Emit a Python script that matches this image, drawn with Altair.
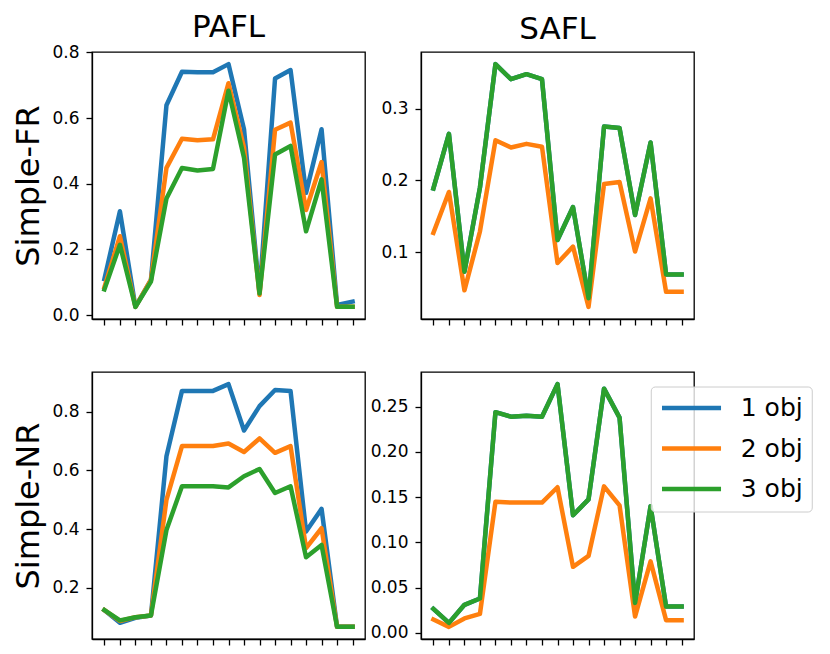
import altair as alt
import pandas as pd

x_idx = list(range(17))
series = ["1 obj", "2 obj", "3 obj"]
colors = ["#1f77b4", "#ff7f0e", "#2ca02c"]
col_titles = ["PAFL", "SAFL"]
row_titles = ["Simple-FR", "Simple-NR"]

# PAFL / Simple-FR
pafl_fr_1 = [0.110, 0.316, 0.025, 0.107, 0.639, 0.741, 0.739, 0.739, 0.764, 0.566, 0.066, 0.720, 0.746, 0.372, 0.566, 0.031, 0.041]
pafl_fr_2 = [0.085, 0.240, 0.025, 0.107, 0.448, 0.537, 0.532, 0.535, 0.706, 0.510, 0.061, 0.564, 0.586, 0.320, 0.466, 0.025, 0.025]
pafl_fr_3 = [0.078, 0.214, 0.025, 0.102, 0.355, 0.448, 0.440, 0.445, 0.683, 0.479, 0.066, 0.489, 0.515, 0.255, 0.413, 0.025, 0.025]
# SAFL / Simple-FR
safl_fr_1 = [0.189, 0.265, 0.073, 0.190, 0.362, 0.341, 0.348, 0.341, 0.117, 0.163, 0.036, 0.275, 0.273, 0.152, 0.253, 0.069, 0.069]
safl_fr_2 = [0.127, 0.184, 0.047, 0.129, 0.256, 0.246, 0.251, 0.247, 0.085, 0.108, 0.024, 0.195, 0.198, 0.101, 0.175, 0.045, 0.045]
safl_fr_3 = [0.189, 0.265, 0.073, 0.190, 0.362, 0.341, 0.348, 0.341, 0.117, 0.163, 0.036, 0.275, 0.273, 0.152, 0.253, 0.069, 0.069]
# PAFL / Simple-NR
pafl_nr_1 = [0.124, 0.081, 0.098, 0.106, 0.648, 0.871, 0.871, 0.871, 0.894, 0.736, 0.819, 0.874, 0.871, 0.392, 0.469, 0.067, 0.067]
pafl_nr_2 = [0.124, 0.087, 0.100, 0.106, 0.500, 0.683, 0.683, 0.683, 0.692, 0.663, 0.709, 0.660, 0.683, 0.335, 0.403, 0.067, 0.067]
pafl_nr_3 = [0.124, 0.089, 0.100, 0.106, 0.397, 0.546, 0.546, 0.546, 0.542, 0.580, 0.605, 0.523, 0.546, 0.304, 0.346, 0.067, 0.067]
# SAFL / Simple-NR
safl_nr_1 = [0.0265, 0.011, 0.031, 0.038, 0.244, 0.239, 0.240, 0.239, 0.275, 0.130, 0.1475, 0.270, 0.238, 0.033, 0.140, 0.029, 0.029]
safl_nr_2 = [0.0147, 0.0066, 0.0159, 0.021, 0.145, 0.144, 0.144, 0.144, 0.161, 0.073, 0.085, 0.162, 0.141, 0.018, 0.079, 0.014, 0.014]
safl_nr_3 = [0.0265, 0.011, 0.031, 0.038, 0.244, 0.239, 0.240, 0.239, 0.275, 0.130, 0.1475, 0.270, 0.238, 0.033, 0.140, 0.029, 0.029]

tick_tl = [0.0, 0.2, 0.4, 0.6, 0.8]
tick_tr = [0.1, 0.2, 0.3]
tick_bl = [0.2, 0.4, 0.6, 0.8]
tick_br = [0.00, 0.05, 0.10, 0.15, 0.20, 0.25]

FONT = "DejaVu Sans"
W, H = 273, 267


def panel(vals, ticks, fmt, title=None, ytitle=None, legend=False, title_offset=10):
    rows = []
    for s, v in zip(series, vals):
        for i, y in zip(x_idx, v):
            rows.append({"x": i, "y": y, "series": s})
    df = pd.DataFrame(rows)
    lo = min(min(v) for v in vals)
    hi = max(max(v) for v in vals)
    pad = 0.05 * (hi - lo)

    if legend:
        leg = alt.Legend(
            orient="none", legendX=229.75, legendY=14.5, title=None,
            symbolType="M-1,0L4.76,0", symbolSize=420, symbolStrokeWidth=4.5,
            symbolFillColor="transparent",
            labelFontSize=25, labelFont=FONT, labelColor="black", labelOffset=56,
            padding=9, rowPadding=14.5, strokeColor="#cccccc",
            fillColor="rgba(255,255,255,0.8)", cornerRadius=4,
        )
    else:
        leg = None

    yaxis_kwargs = dict(values=ticks, format=fmt, grid=False, tickSize=6,
                        labelPadding=7, labelFontSize=17, labelFont=FONT)
    if ytitle:
        yaxis_kwargs.update(title=ytitle, titleFontSize=32, titleFont=FONT,
                            titleFontWeight="normal", titleBaseline="alphabetic",
                            titleX=-54, titleY=H / 2, titleAngle=270, titleColor="black")
    else:
        yaxis_kwargs.update(title=None)

    ch = alt.Chart(df).mark_line(strokeWidth=4.5, strokeJoin="round", strokeCap="square").encode(
        x=alt.X("x:Q", scale=alt.Scale(domain=[-0.8, 16.8], nice=False, zero=False),
                axis=alt.Axis(values=x_idx, labels=False, title=None, grid=False, tickSize=6)),
        y=alt.Y("y:Q", scale=alt.Scale(domain=[lo - pad, hi + pad], nice=False, zero=False),
                axis=alt.Axis(**yaxis_kwargs)),
        color=alt.Color("series:N", scale=alt.Scale(domain=series, range=colors), legend=leg),
    ).properties(width=W, height=H)
    if title:
        ch = ch.properties(title=alt.TitleParams(title, fontSize=31, font=FONT, fontWeight="normal",
                                                 offset=title_offset, dy=28, baseline="alphabetic",
                                                 color="black"))
    return ch


tl = panel([pafl_fr_1, pafl_fr_2, pafl_fr_3], tick_tl, ".1f", title=col_titles[0], ytitle=row_titles[0], title_offset=3)
tr = panel([safl_fr_1, safl_fr_2, safl_fr_3], tick_tr, ".1f", title=col_titles[1], title_offset=10)
bl = panel([pafl_nr_1, pafl_nr_2, pafl_nr_3], tick_bl, ".1f", ytitle=row_titles[1])
br = panel([safl_nr_1, safl_nr_2, safl_nr_3], tick_br, ".2f", legend=True)

chart = alt.concat(tl, tr, bl, br, columns=2, spacing=alt.RowColnumber(row=53, column=56), bounds="flush").resolve_legend(
    color="independent"
).configure_view(stroke="black", strokeWidth=1.3).configure_axis(
    domainColor="black", domainWidth=1.3, tickColor="black", tickWidth=1.3, labelColor="black"
).properties(padding={"left": 3, "top": 3, "right": 5, "bottom": 5})

chart.save("out.html", embed_options={"renderer": "svg", "actions": False})
